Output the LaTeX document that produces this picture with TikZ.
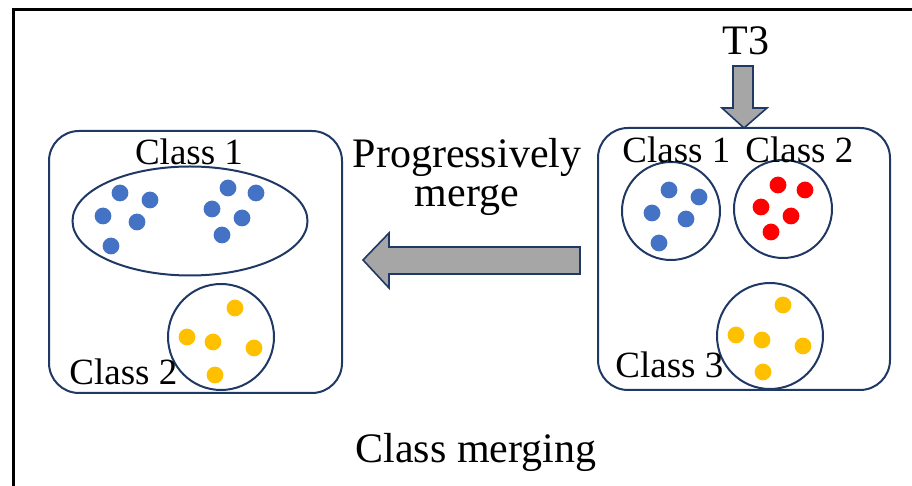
\documentclass[tikz,border=0pt]{standalone}
\usepackage{fontspec}
\setmainfont{Liberation Serif}
\usepackage{tikz}
\usetikzlibrary{shapes.geometric}
\definecolor{navy}{HTML}{203864}
\definecolor{dotblue}{HTML}{4472C4}
\definecolor{dotred}{HTML}{FF0000}
\definecolor{dotyellow}{HTML}{FFC000}
\definecolor{arrowgray}{HTML}{A6A6A6}

\begin{document}
\begin{tikzpicture}[
  x=0.5pt, y=-0.5pt,
  group/.style={draw=navy, line width=1pt, rounded corners=15pt, inner sep=0pt},
  clus/.style={draw=navy, line width=1pt, circle, inner sep=0pt},
  lab/.style={inner sep=0pt, anchor=base west, font=\fontsize{18.5}{20}\selectfont},
  big/.style={inner sep=0pt, font=\fontsize{21}{19.5}\selectfont},
  blk/.style={draw=navy, line width=0.8pt, fill=arrowgray, line join=miter}
]
\clip (0,0) rectangle (912,486);
% outer frame, runs past the page on the right and bottom
\draw[line width=1.5pt] (13,10) rectangle (940,520);

% merged classes (left)
\node[group, minimum width=146.5pt, minimum height=131pt] (merged) at (195.5,262) {};
\node[draw=navy, line width=1pt, ellipse, minimum width=117.5pt, minimum height=54.5pt,
      inner sep=0pt] (mc1) at (190,221) {};
\node[clus, minimum size=53pt] (mc2) at (221,337) {};
\node[lab, anchor=base] (mc1lab) at (189,165) {Class 1};
\node[lab] (mc2lab) at (69,385) {Class 2};
\foreach \p in {(120,193),(150,200),(103,216),(137,222),(111,246),
                (228,188),(256,193),(212,209),(242,218),(222,235)}
  \fill[dotblue] \p circle (4.2pt);
\foreach \p in {(235,308),(187,337),(213,342),(254,348),(215,375)}
  \fill[dotyellow] \p circle (4.2pt);

% incoming classes (right)
\node[group, minimum width=146pt, minimum height=131pt] (task) at (744,259) {};
\node[clus, minimum size=49pt] (tc1) at (671,211) {};
\node[clus, minimum size=49pt] (tc2) at (783,209) {};
\node[clus, minimum size=53pt] (tc3) at (770,336) {};
\node[lab] (tc1lab) at (622,163) {Class 1};
\node[lab] (tc2lab) at (745,163) {Class 2};
\node[lab] (tc3lab) at (615,378) {Class 3};
\foreach \p in {(669,190),(699,197),(652,213),(686,219),(659,243)}
  \fill[dotblue] \p circle (4.2pt);
\foreach \p in {(778,185),(805,190),(761,207),(791,216),(771,232)}
  \fill[dotred] \p circle (4.2pt);
\foreach \p in {(783,305),(736,335),(762,340),(803,346),(763,372)}
  \fill[dotyellow] \p circle (4.2pt);

% new task arrow
\node[big, anchor=base] (t3) at (746,55) {T3};
\draw[blk] (733,66) -- (753,66) -- (753,108) -- (767,108) -- (744,128)
  -- (722,108) -- (733,108) -- cycle;

% merge arrow (base anchor sits on the last line)
\node[big, align=center, anchor=base] (merge) at (467,207) {Progressively\\merge};
\draw[blk] (580,247) -- (389,247) -- (389,233) -- (363,260) -- (389,288)
  -- (389,274) -- (580,274) -- cycle;

\node[big, anchor=base] (title) at (476,463) {Class merging};
\end{tikzpicture}
\end{document}
